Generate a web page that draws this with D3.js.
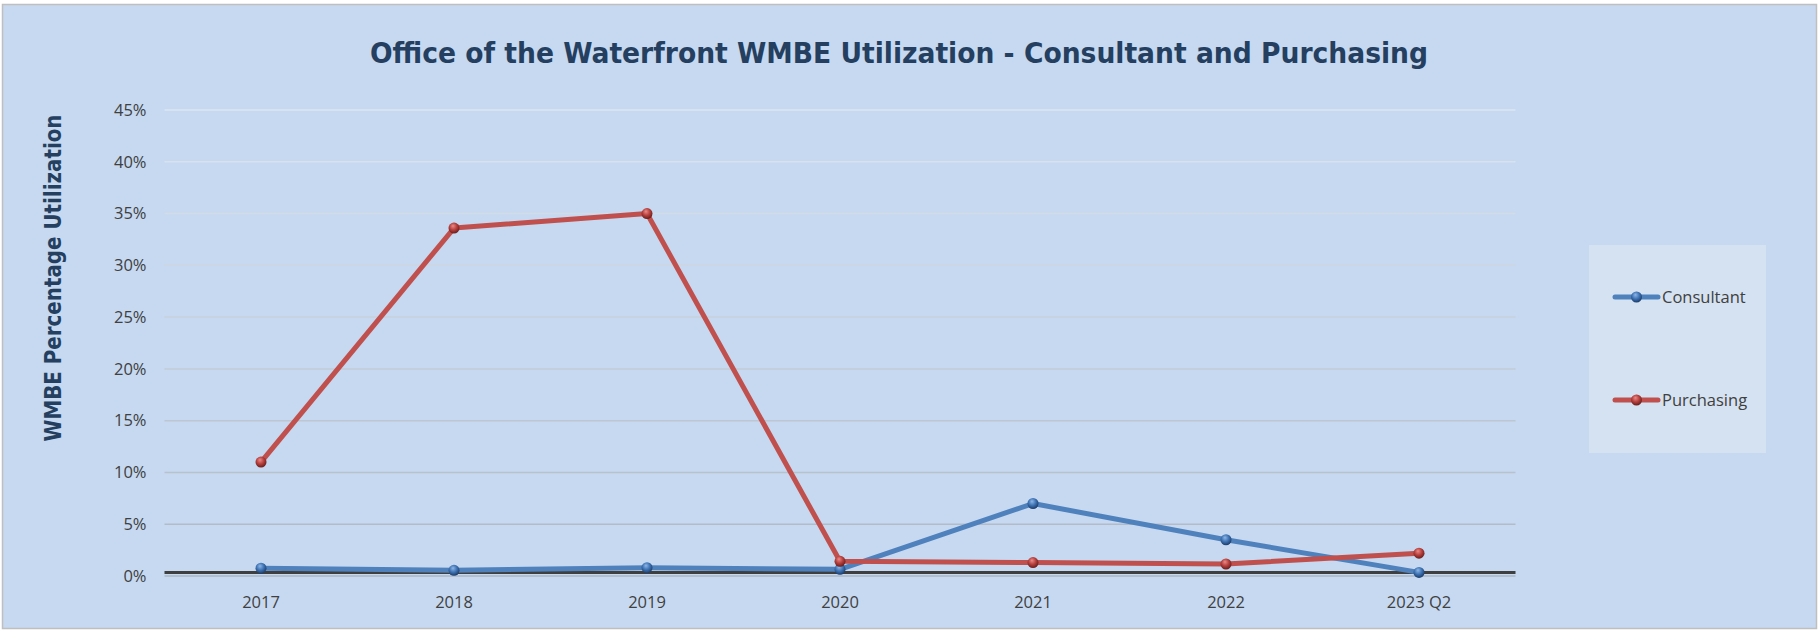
<!DOCTYPE html>
<html>
<head>
<meta charset="utf-8">
<script src="https://cdn.jsdelivr.net/npm/d3@7"></script>
<style>
  body { margin: 0; background: #fff; }
  svg { display: block; }
</style>
</head>
<body>
<div id="chart"></div>
<script>
// chart values
var categories = ["2017", "2018", "2019", "2020", "2021", "2022", "2023 Q2"];
var consultant = [0.0075, 0.0055, 0.008, 0.0065, 0.070, 0.035, 0.0035];
var purchasing = [0.110, 0.336, 0.350, 0.0142, 0.013, 0.0116, 0.022];
var yTicks = [0, 0.05, 0.10, 0.15, 0.20, 0.25, 0.30, 0.35, 0.40, 0.45];
var seriesNames = ["Consultant", "Purchasing"];

var W = 1818, H = 630;
var plot = {left: 164.5, right: 1515.5, top: 110, bottom: 576};

var svg = d3.select("#chart").append("svg")
    .attr("width", W)
    .attr("height", H);

var defs = svg.append("defs");

// sphere-ish markers
function sphere(id, light, mid, dark) {
  var g = defs.append("radialGradient")
      .attr("id", id)
      .attr("cx", "45%").attr("cy", "38%").attr("r", "60%")
      .attr("fx", "40%").attr("fy", "30%");
  g.append("stop").attr("offset", "0%").attr("stop-color", light);
  g.append("stop").attr("offset", "55%").attr("stop-color", mid);
  g.append("stop").attr("offset", "100%").attr("stop-color", dark);
}
sphere("ballBlue", "#8fb6e6", "#3f74b5", "#1d3f6e");
sphere("ballRed", "#ec8a88", "#b6403d", "#6e1f1d");

var series = [
  {name: seriesNames[0], values: consultant, color: "#4f81bd", ball: "url(#ballBlue)"},
  {name: seriesNames[1], values: purchasing, color: "#c0504d", ball: "url(#ballRed)"}
];

// background + border
svg.append("rect")
    .attr("x", 2.5).attr("y", 4.5)
    .attr("width", W - 4).attr("height", H - 6)
    .attr("fill", "#c6d9f0")
    .attr("stroke", "#bfbfbf")
    .attr("stroke-width", 1.5);

var x = d3.scaleBand()
    .domain(categories)
    .range([plot.left, plot.right])
    .padding(0);

var y = d3.scaleLinear()
    .domain([0, 0.45])
    .range([plot.bottom, plot.top]);

// gridlines, lighter near the top
var gridColor = d3.scaleLinear()
    .domain([0, 0.45])
    .range(["#adb6c2", "#dde6f1"])
    .interpolate(d3.interpolateRgb);

svg.append("g")
    .selectAll("line")
    .data(yTicks)
    .join("line")
    .attr("x1", plot.left)
    .attr("x2", plot.right)
    .attr("y1", function(d) { return y(d); })
    .attr("y2", function(d) { return y(d); })
    .attr("stroke", function(d) { return gridColor(d); })
    .attr("stroke-width", 1.5);

// y axis labels
var yAxis = svg.append("g")
    .attr("transform", "translate(" + plot.left + ",0)")
    .call(d3.axisLeft(y).tickValues(yTicks).tickFormat(d3.format(".0%")).tickSize(0).tickPadding(18));
yAxis.select(".domain").remove();
yAxis.selectAll("text")
    .attr("font-family", "Open Sans")
    .attr("font-size", "16.5px")
    .attr("fill", "#404040");

// x axis labels
var xAxis = svg.append("g")
    .attr("transform", "translate(0," + plot.bottom + ")")
    .call(d3.axisBottom(x).tickSize(0).tickPadding(20));
xAxis.select(".domain").remove();
xAxis.selectAll("text")
    .attr("font-family", "Open Sans")
    .attr("font-size", "16.5px")
    .attr("fill", "#404040");

// dark horizontal axis line
svg.append("line")
    .attr("x1", plot.left)
    .attr("x2", plot.right)
    .attr("y1", y(0) - 3.5)
    .attr("y2", y(0) - 3.5)
    .attr("stroke", "#3f3f3f")
    .attr("stroke-width", 3);

// lines
var line = d3.line()
    .x(function(d, i) { return x(categories[i]) + x.bandwidth() / 2; })
    .y(function(d) { return y(d); });

series.forEach(function(s) {
  var g = svg.append("g");
  g.append("path")
      .datum(s.values)
      .attr("d", line)
      .attr("fill", "none")
      .attr("stroke", s.color)
      .attr("stroke-width", 5)
      .attr("stroke-linejoin", "round");
  g.selectAll("circle")
      .data(s.values)
      .join("circle")
      .attr("cx", function(d, i) { return x(categories[i]) + x.bandwidth() / 2; })
      .attr("cy", function(d) { return y(d); })
      .attr("r", 5.5)
      .attr("fill", s.ball);
});

// title
svg.append("text")
    .attr("x", 899)
    .attr("y", 63)
    .attr("text-anchor", "middle")
    .attr("font-family", "DejaVu Sans Condensed, DejaVu Sans")
    .attr("font-weight", "bold")
    .attr("font-size", "27.5px")
    .attr("fill", "#243f60")
    .attr("textLength", 1058)
    .attr("lengthAdjust", "spacingAndGlyphs")
    .text("Office of the Waterfront WMBE Utilization - Consultant and Purchasing");

// y axis title
svg.append("text")
    .attr("transform", "translate(61,278) rotate(-90)")
    .attr("text-anchor", "middle")
    .attr("font-family", "DejaVu Sans Condensed, DejaVu Sans")
    .attr("font-weight", "bold")
    .attr("font-size", "23px")
    .attr("fill", "#243f60")
    .attr("textLength", 327)
    .attr("lengthAdjust", "spacingAndGlyphs")
    .text("WMBE Percentage Utilization");

// legend
var legend = svg.append("g");
legend.append("rect")
    .attr("x", 1589).attr("y", 245)
    .attr("width", 177).attr("height", 208)
    .attr("fill", "#d5e2f1");

var legendY = d3.scalePoint()
    .domain(seriesNames)
    .range([297, 400]);

var item = legend.selectAll("g.item")
    .data(series)
    .join("g")
    .attr("class", "item")
    .attr("transform", function(d) { return "translate(0," + legendY(d.name) + ")"; });

item.append("line")
    .attr("x1", 1615).attr("x2", 1658)
    .attr("stroke", function(d) { return d.color; })
    .attr("stroke-width", 5)
    .attr("stroke-linecap", "round");
item.append("circle")
    .attr("cx", 1636.5)
    .attr("r", 5.5)
    .attr("fill", function(d) { return d.ball; });
item.append("text")
    .attr("x", 1662)
    .attr("dy", "0.35em")
    .attr("font-family", "Open Sans")
    .attr("font-size", "16.5px")
    .attr("fill", "#404040")
    .text(function(d) { return d.name; });
</script>
</body>
</html>
